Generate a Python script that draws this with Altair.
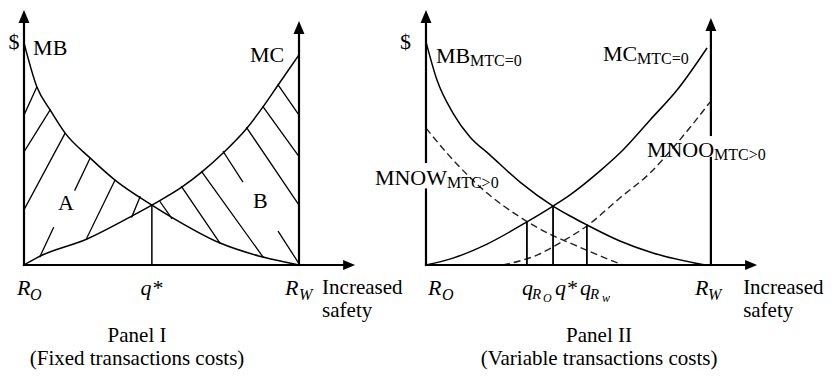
import altair as alt
import pandas as pd

# Horizontal unit: R_O = 0, R_W = 100 (panel I); vertical unit: $ (0-100)
OFF2 = 146.18  # where panel II's R_O sits on the shared horizontal scale

# ---------------- Panel I curves ----------------
MB1_X = [0, 4.7, 9.5, 14.9, 24.0, 33.1, 46.5, 54.2, 71.3, 86.9, 100]
MB1_Y = [87.1, 69.8, 60.8, 51.8, 42.0, 33.3, 23.5, 18.4, 8.6, 3.1, 0]
MC1_X = [0, 5.1, 22.9, 38.5, 46.5, 57.5, 64.7, 72.4, 81.1, 86.9, 92.4, 100]
MC1_Y = [0, 3.1, 10.2, 18.8, 23.5, 30.6, 36.5, 43.9, 53.7, 62.0, 70.6, 82.4]

# hatching of areas A and B (start / end of each stroke)
HATCH_X1 = [0, 0, 0, 5.8, 18.5, 22.8, 39.2, 49.5, 57.3, 64.6, 72.5, 92.5, 81.0, 86.9, 92.4]
HATCH_Y1 = [58.8, 44.4, 21.6, 3.3, 29.4, 10.5, 18.9, 24.8, 30.7, 36.6, 44.4, 13.1, 53.8, 62.1, 70.6]
HATCH_X2 = [4.6, 9.5, 14.9, 10.7, 24.0, 33.1, 42.2, 53.7, 71.3, 87.0, 79.5, 100, 100, 100, 100]
HATCH_Y2 = [69.7, 60.8, 51.6, 14.6, 41.8, 33.3, 26.7, 18.3, 8.5, 3.0, 32.7, 0.5, 23.5, 42.5, 58.8]

# ---------------- Panel II curves (x from panel II's R_O) ----------------
MB2_X = [0, 4.0, 9.8, 16.0, 23.3, 34.2, 46.2, 52.4, 58.5, 70.5, 82.5, 101.5]
MB2_Y = [87.5, 72.5, 59.6, 50.2, 43.1, 32.5, 23.1, 19.2, 15.7, 9.4, 4.7, 0]
MC2_X = [0, 9.8, 22.2, 36.7, 46.2, 52.4, 63.3, 70.5, 81.5, 91.3, 102.2]
MC2_Y = [0, 2.7, 8.2, 16.9, 23.1, 27.5, 36.9, 43.9, 56.9, 68.6, 85.1]
MNOW_X = [0, 7.6, 22.2, 34.2, 46.2, 52.4, 64.4, 71.6]
MNOW_Y = [53.7, 43.9, 28.2, 18.8, 11.5, 8.6, 3.1, 0]
MNOO_X = [28.0, 40.4, 50.5, 58.5, 70.5, 81.5, 91.3, 103.3]
MNOO_Y = [0, 3.9, 9.8, 15.3, 26.3, 36.1, 47.8, 63.9]

# quantities marked on the axis: (x, height of the vertical line)
Q1_X, Q1_Y = [46.5], [23.5]
Q2_X, Q2_Y = [36.7, 46.2, 58.5], [16.9, 23.1, 15.5]

RW1, RW2 = 100, 103.6  # R_W position in each panel

# ---------------- build tables ----------------
curve_rows = []
for name, xs, ys, off, dashed in [
    ("MB1", MB1_X, MB1_Y, 0, False), ("MC1", MC1_X, MC1_Y, 0, False),
    ("MB2", MB2_X, MB2_Y, OFF2, False), ("MC2", MC2_X, MC2_Y, OFF2, False),
    ("MNOW", MNOW_X, MNOW_Y, OFF2, True), ("MNOO", MNOO_X, MNOO_Y, OFF2, True),
]:
    for i, (x, y) in enumerate(zip(xs, ys)):
        curve_rows.append(dict(curve=name, x=x + off, y=y, i=i, dashed=dashed))
curves = pd.DataFrame(curve_rows)

seg_rows = [
    dict(x=0, y=0, x2=117.0, y2=0, w=2.2),
    dict(x=0, y=0, x2=0, y2=96.0, w=2.2),
    dict(x=RW1, y=0, x2=RW1, y2=91.2, w=2.2),
    dict(x=OFF2, y=0, x2=OFF2 + 116.8, y2=0, w=2.2),
    dict(x=OFF2, y=0, x2=OFF2, y2=29.6, w=2.2),
    dict(x=OFF2, y=40.4, x2=OFF2, y2=96.0, w=2.2),
    dict(x=OFF2 + RW2, y=0, x2=OFF2 + RW2, y2=42.0, w=2.2),
    dict(x=OFF2 + RW2, y=51.0, x2=OFF2 + RW2, y2=92.4, w=2.2),
]
for x, y in zip(Q1_X, Q1_Y):
    seg_rows.append(dict(x=x, y=0, x2=x, y2=y, w=1.5))
for x, y in zip(Q2_X, Q2_Y):
    seg_rows.append(dict(x=x + OFF2, y=0, x2=x + OFF2, y2=y, w=1.8))
for a, b, c, d in zip(HATCH_X1, HATCH_Y1, HATCH_X2, HATCH_Y2):
    seg_rows.append(dict(x=a, y=b, x2=c, y2=d, w=1.3))
segs = pd.DataFrame(seg_rows)

arrows_up = pd.DataFrame(dict(x=[0, RW1, OFF2, OFF2 + RW2], y=[100, 95.7, 100, 96.9]))
arrows_right = pd.DataFrame(dict(x=[120.4, OFF2 + 120.4], y=[0, 0]))

FONT = "Liberation Serif"
BIG, MID, SUB, SUBSUB = 22, 21, 16, 12

upright = pd.DataFrame([
    dict(t="$", x=-5.6, y=84.7, s=BIG),
    dict(t="MB", x=3.3, y=82.4, s=BIG),
    dict(t="MC", x=82.2, y=79.6, s=BIG),
    dict(t="A", x=12.4, y=21.6, s=BIG),
    dict(t="B", x=83.3, y=22.4, s=BIG),
    dict(t="Increased", x=108.4, y=-11.4, s=MID),
    dict(t="safety", x=108.4, y=-20.4, s=MID),
    dict(t="$", x=136.7, y=84.7, s=BIG),
    dict(t="MB", x=149.8, y=79.2, s=BIG),
    dict(t="MTC=0", x=162.2, y=78.0, s=SUB),
    dict(t="MC", x=210.5, y=80.0, s=BIG),
    dict(t="MTC=0", x=222.9, y=78.8, s=SUB),
    dict(t="MNOO", x=226.5, y=42.4, s=BIG),
    dict(t="MTC>0", x=250.9, y=41.2, s=SUB),
    dict(t="MNOW", x=127.6, y=31.4, s=BIG),
    dict(t="MTC>0", x=153.8, y=30.2, s=SUB),
    dict(t="Increased", x=261.5, y=-11.4, s=MID),
    dict(t="safety", x=261.5, y=-20.4, s=MID),
])
centered = pd.DataFrame([
    dict(t="Panel I", x=41.1, y=-30.2, s=MID),
    dict(t="(Fixed transactions costs)", x=41.1, y=-39.2, s=MID),
    dict(t="Panel II", x=209.1, y=-30.2, s=MID),
    dict(t="(Variable transactions costs)", x=209.1, y=-39.2, s=MID),
])
italic = pd.DataFrame([
    dict(t="R", x=-2.5, y=-11.8, s=BIG),
    dict(t="O", x=2.2, y=-13.7, s=SUB),
    dict(t="q*", x=42.4, y=-11.8, s=BIG),
    dict(t="R", x=94.9, y=-11.8, s=BIG),
    dict(t="W", x=100.0, y=-13.7, s=SUB),
    dict(t="R", x=146.9, y=-11.8, s=BIG),
    dict(t="O", x=152.0, y=-13.7, s=SUB),
    dict(t="q", x=181.1, y=-11.8, s=BIG),
    dict(t="R", x=184.7, y=-13.3, s=SUB - 1),
    dict(t="O", x=188.7, y=-14.5, s=SUBSUB),
    dict(t="q*", x=193.1, y=-11.8, s=BIG),
    dict(t="q", x=202.2, y=-11.8, s=BIG),
    dict(t="R", x=205.8, y=-13.3, s=SUB - 1),
    dict(t="w", x=210.2, y=-14.5, s=SUBSUB),
    dict(t="R", x=244.0, y=-11.8, s=BIG),
    dict(t="W", x=248.7, y=-13.7, s=SUB),
])

XS = alt.Scale(domain=[-5.818, 291.636], nice=False, zero=False)
YS = alt.Scale(domain=[-41.18, 100.78], nice=False, zero=False)
X = alt.X("x:Q", scale=XS, axis=None)
Y = alt.Y("y:Q", scale=YS, axis=None)

solid = alt.Chart(curves).transform_filter("!datum.dashed").mark_line(
    interpolate="monotone", color="black", strokeWidth=1.5
).encode(x=X, y=Y, detail="curve:N", order="i:Q")

dashed = alt.Chart(curves).transform_filter("datum.dashed").mark_line(
    interpolate="monotone", color="#222", strokeWidth=1.4, strokeDash=[7, 4]
).encode(x=X, y=Y, detail="curve:N", order="i:Q")

rules = alt.Chart(segs).mark_rule(color="black", strokeCap="square").encode(
    x=X, y=Y, x2="x2:Q", y2="y2:Q",
    strokeWidth=alt.StrokeWidth("w:Q", scale=None),
)

up = alt.Chart(arrows_up).mark_point(
    shape="M0,0L-0.42,1L0.42,1Z", filled=True, color="black", opacity=1, size=676
).encode(x=X, y=Y)
right = alt.Chart(arrows_right).mark_point(
    shape="M0,0L-1,-0.42L-1,0.42Z", filled=True, color="black", opacity=1, size=576
).encode(x=X, y=Y)

t_up = alt.Chart(upright).mark_text(
    font=FONT, align="left", baseline="alphabetic", color="black"
).encode(x=X, y=Y, text="t:N", size=alt.Size("s:Q", scale=None))
t_c = alt.Chart(centered).mark_text(
    font=FONT, align="center", baseline="alphabetic", color="black"
).encode(x=X, y=Y, text="t:N", size=alt.Size("s:Q", scale=None))
t_i = alt.Chart(italic).mark_text(
    font=FONT, fontStyle="italic", align="left", baseline="alphabetic", color="black"
).encode(x=X, y=Y, text="t:N", size=alt.Size("s:Q", scale=None))

chart = alt.layer(solid, dashed, rules, up, right, t_up, t_c, t_i).properties(
    width=818, height=362, autosize="none", padding=0
).configure_view(stroke=None)

chart.save("out.html", embed_options={"renderer": "svg", "actions": False})
